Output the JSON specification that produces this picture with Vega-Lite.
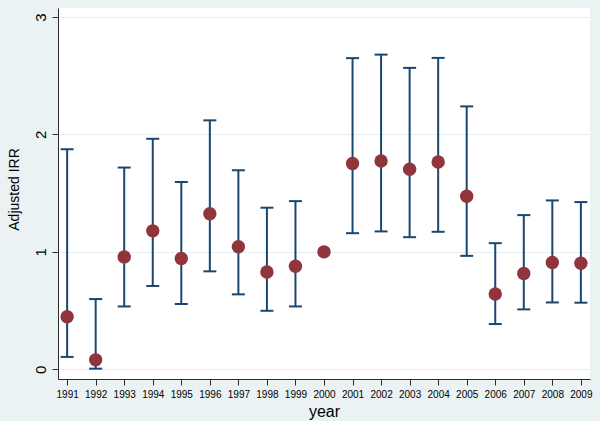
{
  "$schema": "https://vega.github.io/schema/vega-lite/v6.json",
  "width": 532,
  "height": 371,
  "autosize": "none",
  "padding": {"left": 58, "top": 8, "right": 10, "bottom": 42},
  "background": "#EAF2F3",
  "config": {
    "view": {"fill": "white", "stroke": null},
    "font": "Liberation Sans",
    "axis": {
      "domainColor": "#2b2b2b",
      "tickColor": "#2b2b2b",
      "domainWidth": 1,
      "tickWidth": 1,
      "tickSize": 6,
      "labelColor": "black",
      "titleColor": "black",
      "titleFontWeight": "normal",
      "labelFont": "Liberation Sans",
      "titleFont": "Liberation Sans"
    }
  },
  "data": {
    "values": [
      {"year": 1991, "irr": 0.447, "lo": 0.105, "hi": 1.874},
      {"year": 1992, "irr": 0.08, "lo": 0.005, "hi": 0.598},
      {"year": 1993, "irr": 0.957, "lo": 0.535, "hi": 1.718},
      {"year": 1994, "irr": 1.179, "lo": 0.709, "hi": 1.963},
      {"year": 1995, "irr": 0.943, "lo": 0.556, "hi": 1.595},
      {"year": 1996, "irr": 1.325, "lo": 0.834, "hi": 2.12},
      {"year": 1997, "irr": 1.043, "lo": 0.638, "hi": 1.695},
      {"year": 1998, "irr": 0.829, "lo": 0.498, "hi": 1.376},
      {"year": 1999, "irr": 0.877, "lo": 0.535, "hi": 1.432},
      {"year": 2000, "irr": 1.0, "lo": null, "hi": null},
      {"year": 2001, "irr": 1.752, "lo": 1.159, "hi": 2.65},
      {"year": 2002, "irr": 1.774, "lo": 1.174, "hi": 2.68},
      {"year": 2003, "irr": 1.703, "lo": 1.125, "hi": 2.567},
      {"year": 2004, "irr": 1.766, "lo": 1.171, "hi": 2.652},
      {"year": 2005, "irr": 1.473, "lo": 0.966, "hi": 2.239},
      {"year": 2006, "irr": 0.641, "lo": 0.385, "hi": 1.074},
      {"year": 2007, "irr": 0.815, "lo": 0.51, "hi": 1.313},
      {"year": 2008, "irr": 0.909, "lo": 0.569, "hi": 1.438},
      {"year": 2009, "irr": 0.903, "lo": 0.567, "hi": 1.424}
    ]
  },
  "encoding": {
    "x": {
      "field": "year",
      "type": "quantitative",
      "scale": {"domain": [1990.68, 2009.32], "nice": false, "zero": false},
      "axis": {
        "title": "year",
        "values": [1991, 1992, 1993, 1994, 1995, 1996, 1997, 1998, 1999, 2000, 2001, 2002, 2003, 2004, 2005, 2006, 2007, 2008, 2009],
        "format": "d",
        "grid": false,
        "labelFontSize": 10,
        "labelPadding": 4,
        "labelFlush": false,
        "labelOverlap": false,
        "titleFontSize": 16,
        "titleX": 266,
        "titleY": 37,
        "titleAlign": "center",
        "titleBaseline": "alphabetic"
      }
    }
  },
  "layer": [
    {
      "mark": {"type": "rule", "color": "#1A476F", "strokeWidth": 2},
      "encoding": {
        "y": {
          "field": "lo",
          "type": "quantitative",
          "scale": {"domain": [-0.083, 3.077], "nice": false, "zero": false},
          "axis": {
            "title": "Adjusted IRR",
            "values": [0, 1, 2, 3],
            "format": "d",
            "grid": true,
            "gridColor": "#E6EEF1",
            "gridWidth": 1,
            "labelFontSize": 15,
            "labelAngle": 270,
            "labelAlign": "center",
            "labelBaseline": "alphabetic",
            "labelPadding": 7,
            "titleFontSize": 14,
            "titleAngle": 270,
            "titleX": -40,
            "titleY": 181,
            "titleAlign": "center",
            "titleBaseline": "alphabetic"
          }
        },
        "y2": {"field": "hi"}
      }
    },
    {
      "mark": {"type": "tick", "orient": "horizontal", "color": "#1A476F", "size": 13, "thickness": 2, "opacity": 1},
      "encoding": {"y": {"field": "hi", "type": "quantitative", "title": "Adjusted IRR"}}
    },
    {
      "mark": {"type": "tick", "orient": "horizontal", "color": "#1A476F", "size": 13, "thickness": 2, "opacity": 1},
      "encoding": {"y": {"field": "lo", "type": "quantitative", "title": "Adjusted IRR"}}
    },
    {
      "mark": {"type": "circle", "color": "#90353B", "size": 180, "opacity": 1},
      "encoding": {"y": {"field": "irr", "type": "quantitative", "title": "Adjusted IRR"}}
    }
  ]
}
